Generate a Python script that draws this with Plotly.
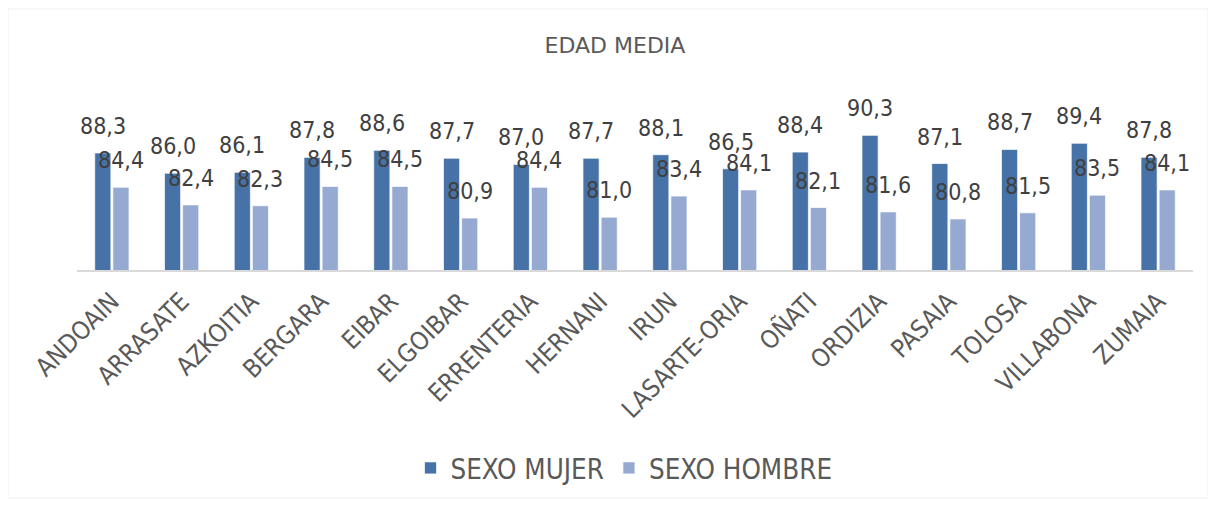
import plotly.graph_objects as go

categories = ["ANDOAIN", "ARRASATE", "AZKOITIA", "BERGARA", "EIBAR", "ELGOIBAR",
              "ERRENTERIA", "HERNANI", "IRUN", "LASARTE-ORIA", "OÑATI", "ORDIZIA",
              "PASAIA", "TOLOSA", "VILLABONA", "ZUMAIA"]
mujer = [88.3, 86.0, 86.1, 87.8, 88.6, 87.7, 87.0, 87.7, 88.1, 86.5, 88.4, 90.3, 87.1, 88.7, 89.4, 87.8]
hombre = [84.4, 82.4, 82.3, 84.5, 84.5, 80.9, 84.4, 81.0, 83.4, 84.1, 82.1, 81.6, 80.8, 81.5, 83.5, 84.1]
series_names = ["SEXO MUJER", "SEXO HOMBRE"]
colors = ["#4672A7", "#95A9D1"]

W, H = 1216, 506
ML, MR, MT, MB = 69, 31, 86, 244
FONT = "DejaVu Sans Condensed, DejaVu Sans, sans-serif"
bargap = 0.48
bargroupgap = 0.11

fig = go.Figure()
for name, vals, col in zip(series_names, [mujer, hombre], colors):
    fig.add_trace(go.Bar(
        x=categories, y=vals, name=name,
        marker=dict(color=col, line=dict(color="rgba(255,255,255,0.7)", width=1)),
        hoverinfo="skip",
    ))

# data labels centred above each bar
plot_w = W - ML - MR
plot_h = H - MT - MB
cat_w = plot_w / len(categories)
slot = cat_w * (1 - bargap) / 2
for i, vals in enumerate([mujer, hombre]):
    shift = (i - 0.5) * slot
    for c, v in zip(categories, vals):
        fig.add_annotation(
            x=c, y=v, text=f"{v:.1f}".replace(".", ","), showarrow=False,
            xanchor="center", yanchor="bottom", xshift=shift, yshift=12,
            font=dict(family=FONT, size=23, color="#404040"),
        )

fig.update_layout(
    width=W, height=H,
    margin=dict(l=ML, r=MR, t=MT, b=MB, autoexpand=False),
    paper_bgcolor="white", plot_bgcolor="white",
    barmode="group", bargap=bargap, bargroupgap=bargroupgap,
    title=dict(text="EDAD MEDIA", x=607 / W, xanchor="center", y=1 - 37 / H, yanchor="middle",
               font=dict(family="DejaVu Sans, sans-serif", size=22, color="#595959")),
    showlegend=True,
    legend=dict(orientation="h", x=(616 - ML) / plot_w, xanchor="center",
                y=-(460 - (H - MB)) / plot_h, yanchor="middle",
                font=dict(family=FONT, size=27.5, color="#595959"),
                itemwidth=30, tracegroupgap=0),
    xaxis=dict(showgrid=False, showline=True, linecolor="#D9D9D9", linewidth=1.5,
               tickangle=-45, ticks="outside", ticklen=5, tickcolor="rgba(0,0,0,0)",
               automargin=False,
               tickfont=dict(family=FONT, size=25, color="#595959")),
    yaxis=dict(range=[75, 95], visible=False, showgrid=False),
    shapes=[dict(type="rect", xref="paper", yref="paper",
                 x0=(0 - ML) / plot_w, x1=(1200 - ML) / plot_w,
                 y0=-(490 - (H - MB)) / plot_h, y1=1 + (MT - 1) / plot_h,
                 line=dict(color="#EFEFEF", width=1), layer="below")],
)

fig.write_html("out.html")
